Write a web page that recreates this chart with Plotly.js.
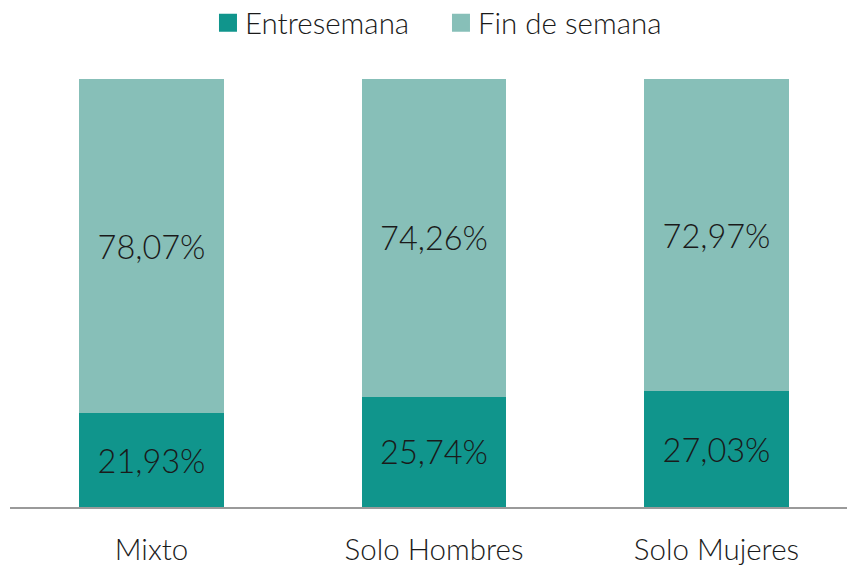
<!DOCTYPE html>
<html><head><meta charset="utf-8">
<script src="https://cdn.plot.ly/plotly-3.0.1.min.js"></script>
<style>body{margin:0;background:#fff}#c{width:847px;height:565px}</style>
</head><body><div id="c"></div>
<script>
const categories = ["Mixto", "Solo Hombres", "Solo Mujeres"];
const entresemana = [21.93, 25.74, 27.03];
const finDeSemana = [78.07, 74.26, 72.97];
const seriesNames = ["Entresemana", "Fin de semana"];

const fmt = v => v.toFixed(2).replace('.', ',') + '%';
const FONT = 'Lato, "Open Sans", sans-serif';

const traces = [
  {type:'bar', name:seriesNames[0], x:categories, y:entresemana,
   marker:{color:'#10958C'}, text:entresemana.map(fmt), textposition:'inside',
   insidetextanchor:'middle', textangle:0, constraintext:'none',
   textfont:{family:FONT, size:32.5, weight:300, color:'#1a1a1a'}, hoverinfo:'none'},
  {type:'bar', name:seriesNames[1], x:categories, y:finDeSemana,
   marker:{color:'#87BFB8'}, text:finDeSemana.map(fmt), textposition:'inside',
   insidetextanchor:'middle', textangle:0, constraintext:'none',
   textfont:{family:FONT, size:32.5, weight:300, color:'#1a1a1a'}, hoverinfo:'none'}
];

const layout = {
  width:847, height:565,
  margin:{l:10, r:0, t:79, b:58},
  barmode:'stack', bargap:0.487,
  paper_bgcolor:'#fff', plot_bgcolor:'#fff',
  font:{family:FONT, color:'#1a1a1a'},
  showlegend:true,
  legend:{orientation:'h', x:0.5171, xanchor:'center', xref:'container', y:0.959, yanchor:'middle', yref:'container',
          font:{family:FONT, size:29.5, weight:300, color:'#1a1a1a'}, itemwidth:30, traceorder:'normal',
          entrywidth:188, entrywidthmode:'pixels'},
  xaxis:{type:'category', range:[-0.501, 2.462], showline:true, linecolor:'#9a9a9a', linewidth:1.5,
         ticks:'', ticklabelstandoff:16, tickfont:{family:FONT, size:29.5, weight:300, color:'#1a1a1a'},
         showgrid:false, zeroline:false, fixedrange:true},
  yaxis:{range:[0,100], visible:false, showgrid:false, zeroline:false, fixedrange:true}
};

Plotly.newPlot('c', traces, layout, {displayModeBar:false, staticPlot:true}).then(() => {
  document.querySelectorAll('#c .legendpoints path').forEach(p => p.setAttribute('transform', 'translate(23,0) scale(1.5)'));
});
</script></body></html>
